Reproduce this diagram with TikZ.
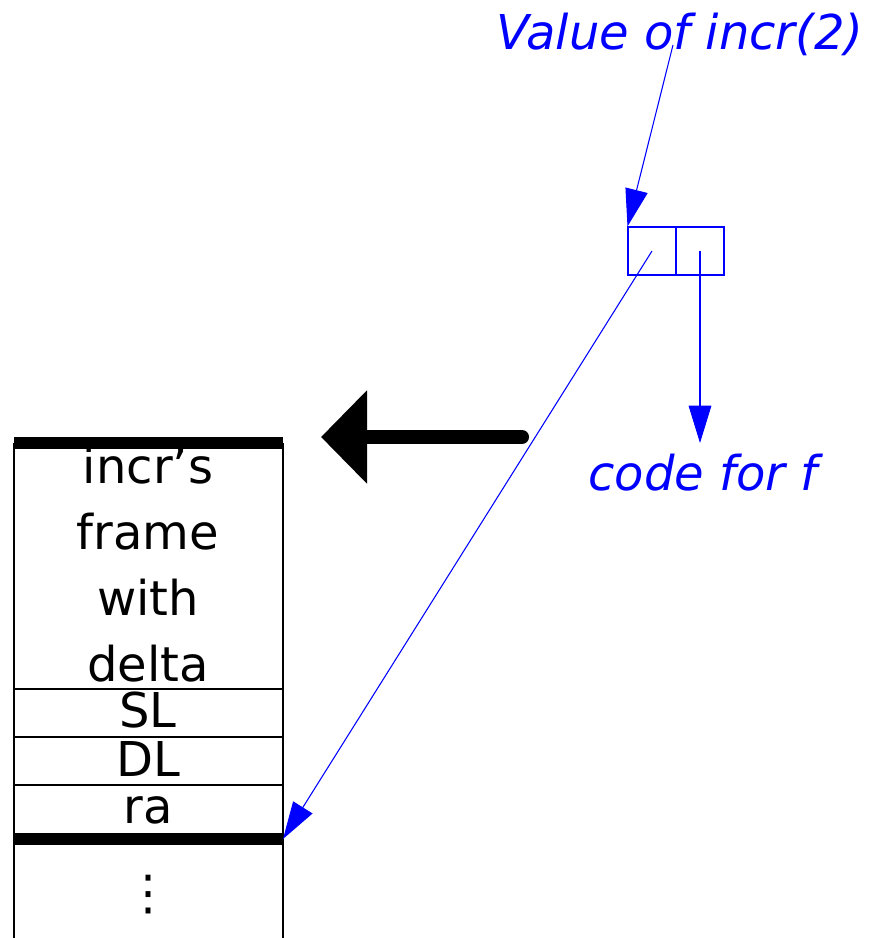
\documentclass[tikz,border=0pt]{standalone}
\usepackage{fontspec}
\setmainfont{DejaVu Sans}
\usetikzlibrary{arrows.meta}
\tikzset{
  lbl/.style={font=\fontsize{36}{40}\selectfont, inner sep=0pt, anchor=base},
  bluelbl/.style={font=\fontsize{36}{40}\selectfont\itshape, text=blue, inner sep=0pt, anchor=base},
  cellbox/.style={draw=blue, line width=0.8pt, minimum width=36pt, minimum height=36pt, inner sep=0pt},
  bluearrow/.style={draw=blue, line width=0.8pt, -{Triangle[length=28pt,width=17pt]}},
  thin/.style={line width=1.1pt},
  thick/.style={line width=9pt},
}
\begin{document}
\begin{tikzpicture}[x=0.75pt,y=-0.75pt]
\useasboundingbox (0,0) rectangle (878,938);
% stack
\coordinate (tl) at (14,443);
\coordinate (tr) at (283,443);
\coordinate (bl) at (14,938);
\coordinate (br) at (283,938);
\coordinate (sl1) at (14,689); \coordinate (sr1) at (283,689);
\coordinate (sl2) at (14,737); \coordinate (sr2) at (283,737);
\coordinate (sl3) at (14,785); \coordinate (sr3) at (283,785);
\coordinate (ral) at (14,839); \coordinate (rar) at (283,839);
\draw[thin] (tl) -- (bl);
\draw[thin] (tr) -- (br);
\draw[thin] (sl1) -- (sr1);
\draw[thin] (sl2) -- (sr2);
\draw[thin] (sl3) -- (sr3);
\draw[thick] (tl) -- (tr);
\draw[thick] (ral) -- (rar);
\node[lbl] (t1) at (148,483) {incr’s};
\node[lbl] (t2) at (148,549) {frame};
\node[lbl] (t3) at (148,615) {with};
\node[lbl] (t4) at (148,681) {delta};
\node[lbl] (sl) at (148,727) {SL};
\node[lbl] (dl) at (148,776) {DL};
\node[lbl] (ra) at (148,823) {ra};
\node[font=\fontsize{36}{40}\selectfont, inner sep=0pt] (dots) at (148,895) {⋮};
% big arrow
\coordinate (bigs) at (522,437);
\coordinate (bige) at (321,437);
\draw[line width=10.5pt, line cap=round, -{Triangle[length=34.5pt,width=68pt]}] (bigs) -- (bige);
% cells
\node[cellbox] (c1) at (652,251) {};
\node[cellbox] (c2) at (700,251) {};
\coordinate (c1c) at (652,251);
\coordinate (c2c) at (700,251);
% labels
\node[bluelbl] (val) at (680,50) {Value of incr(2)};
\node[bluelbl] (code) at (703,490) {code for f};
\coordinate (valfoot) at (673,45);
\coordinate (codetop) at (700,443);
\draw[bluearrow] (valfoot) -- (c1.north west);
\draw[bluearrow] (c1c) -- (rar);
\draw[bluearrow] (c2c) -- (codetop);
\end{tikzpicture}
\end{document}
